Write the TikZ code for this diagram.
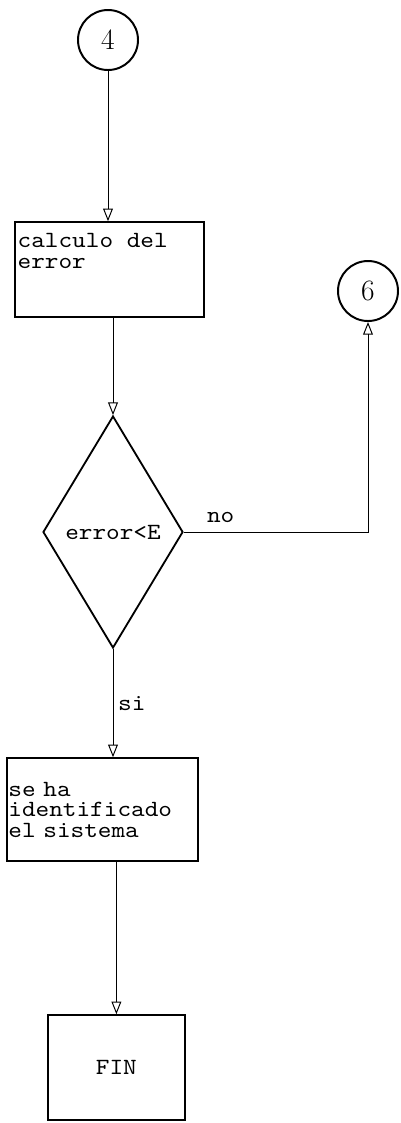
\documentclass[tikz,border=0pt]{standalone}
\usepackage{fontspec}
\newfontfamily\maquina[FakeStretch=1.12]{lmmono10-regular.otf}
\usepackage{tikz}
\usetikzlibrary{arrows.meta,shapes.geometric}

\begin{document}
\begin{tikzpicture}[
    caja/.style={draw, line width=1.3pt, rectangle, inner sep=1pt},
    conector/.style={draw, line width=1.4pt, circle, minimum size=1.5cm, inner sep=0pt, font=\fontsize{21}{21}\selectfont},
    decision/.style={draw, line width=1.3pt, diamond, minimum width=3.5cm, minimum height=5.8cm, inner sep=0pt},
    texto/.style={font=\maquina\fontsize{16.5}{14.6}\selectfont},
    flecha/.style={line width=0.7pt, -{Triangle[open, length=9pt, width=7pt]}}
  ]
  \fill[white] (0,0) rectangle (10.025,-28.075);

  \node[conector] (c4) at (2.7,-1.0) {4};
  \node[caja, minimum width=4.725cm, minimum height=2.375cm] (calc) at (2.74,-6.74) {};
  \node[texto, anchor=north west, inner sep=0pt, align=left] (calctxt) at ([shift={(0.08,-0.3)}]calc.north west) {calculo del\\error};
  \node[decision, texto] (dec) at (2.825,-13.3) {error<E};
  \node[conector] (c6) at (9.2,-7.275) {6};
  \node[caja, texto, minimum width=4.775cm, minimum height=2.575cm, text width=4.7cm, align=left] (sis) at (2.56,-20.24) {se ha\\identificado\\el sistema};
  \node[caja, texto, minimum width=3.425cm, minimum height=2.625cm] (fin) at (2.91,-26.69) {FIN};

  \draw[flecha] (c4.south) -- (c4.south |- calc.north);
  \draw[flecha] (dec.north |- calc.south) -- (dec.north);
  \draw[flecha] (dec.east) -| (c6.south) node[texto, pos=0.1, above=3pt] {no};
  \draw[flecha] (dec.south) -- (dec.south |- sis.north) node[texto, midway, right] {si};
  \draw[flecha] (fin.north |- sis.south) -- (fin.north);
\end{tikzpicture}
\end{document}
